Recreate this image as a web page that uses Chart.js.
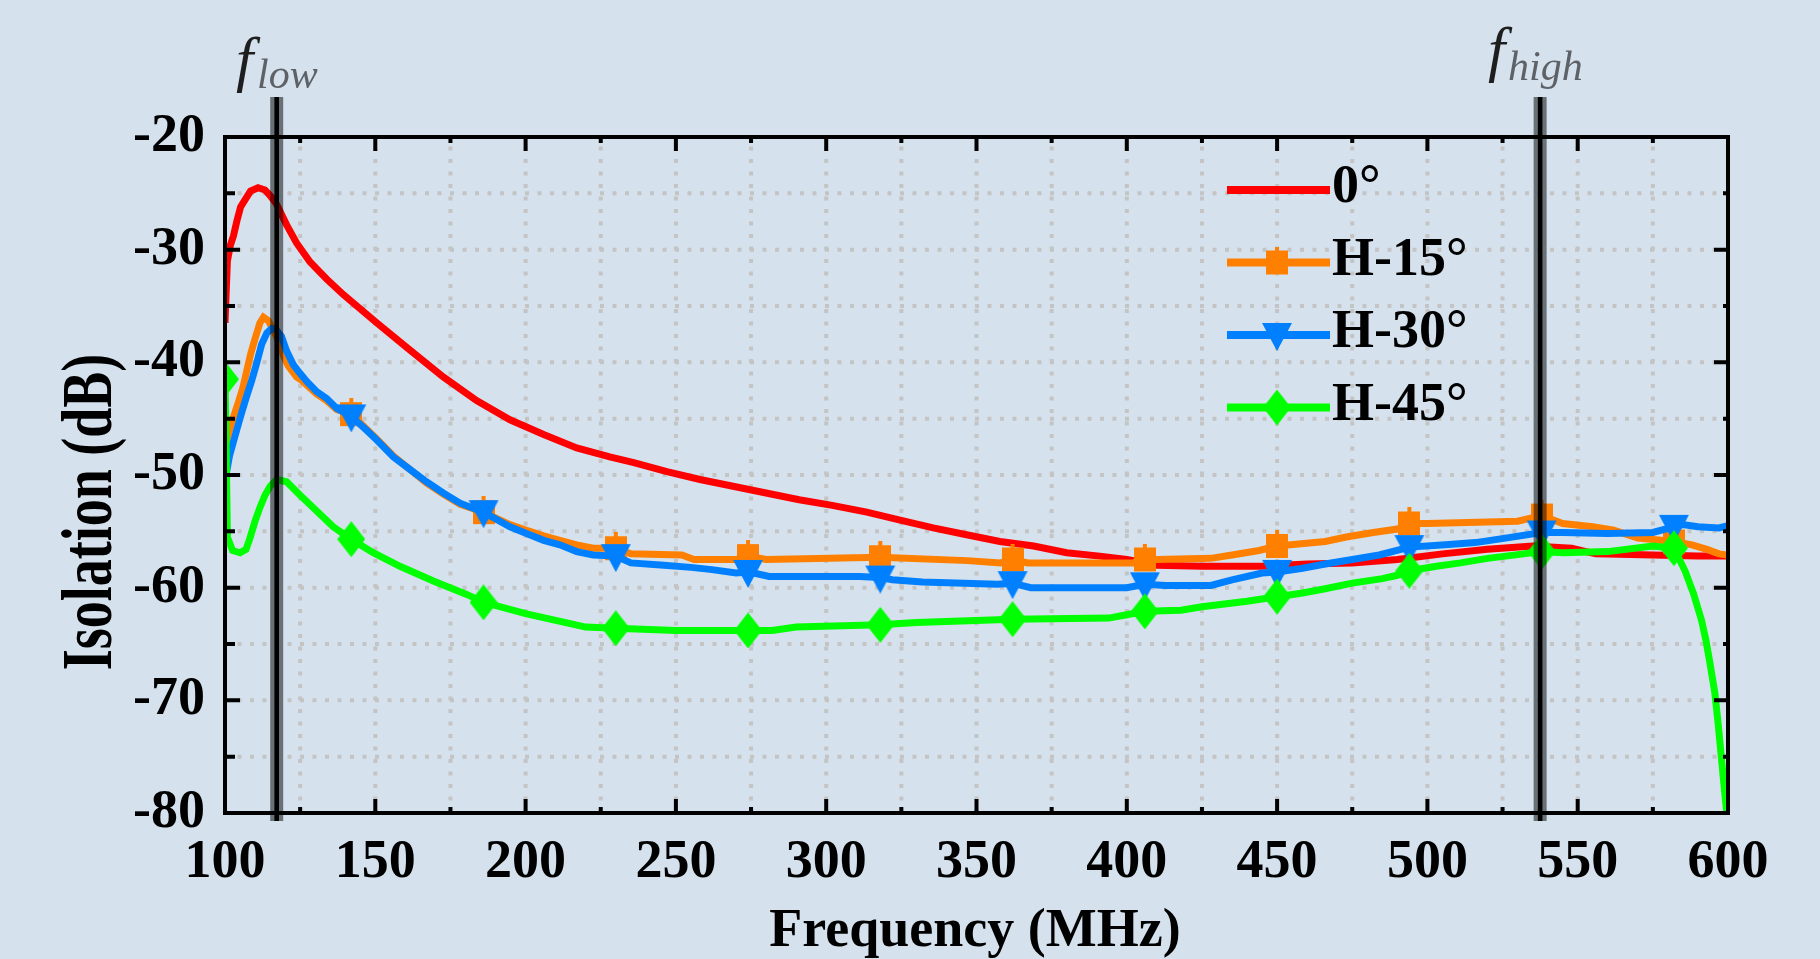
<!DOCTYPE html>
<html>
<head>
<meta charset="utf-8">
<script src="https://cdn.jsdelivr.net/npm/chart.js@4.4.1/dist/chart.umd.min.js"></script>
<style>
  html, body { margin: 0; padding: 0; background: #d5e2ed; }
  canvas { display: block; }
</style>
</head>
<body>
<canvas id="chart" width="1820" height="959"></canvas>
<script>
// values: frequency in MHz, isolation in dB

// 0°
const freq0 = [100, 100.8, 101.8, 102.8, 104, 105.2, 106.6, 108.5, 111, 113.3, 115, 117, 118.3, 120.5, 123.8, 128.3, 133.8, 139.4, 150.5, 161.5, 172.6, 183.7, 194.8, 206, 217, 228, 236, 247, 258, 269, 280, 291, 302, 313.5, 324.6, 335.6, 346.7, 357.8, 369, 380, 391, 400, 410, 425, 445, 460, 475, 490, 505, 520, 535, 548, 556, 575, 590, 600];
const iso0 = [-36.5, -31.0, -29.6, -28.8, -27.4, -26.2, -25.6, -24.8, -24.5, -24.7, -25.2, -25.9, -26.6, -27.8, -29.4, -31.1, -32.6, -34.0, -36.5, -38.9, -41.3, -43.4, -45.1, -46.4, -47.6, -48.4, -48.9, -49.7, -50.4, -51.0, -51.6, -52.2, -52.7, -53.3, -54.0, -54.7, -55.3, -55.9, -56.3, -56.9, -57.2, -57.5, -58.0, -58.1, -58.1, -57.9, -57.8, -57.5, -57.0, -56.6, -56.3, -56.5, -57.0, -57.1, -57.2, -57.2];

// H-15°
const freq1 = [100, 101, 102.3, 103.5, 104.4, 105.9, 107.2, 108.5, 110, 111.6, 112.8, 114.4, 117, 119.6, 121, 123.8, 125.5, 130.5, 133.8, 137.2, 142, 147, 150.5, 156, 161.5, 167, 172.6, 178.2, 186, 194.8, 200.3, 206, 211.4, 217, 222.5, 230, 235, 252, 256, 270, 274, 280, 318, 347, 358, 362, 367, 402, 406, 410, 428, 435, 444, 450, 458, 466, 473, 482, 490, 494, 500, 530, 538, 545, 555, 562, 570, 582, 588, 593, 597, 600];
const iso1 = [-47.5, -46.5, -45.3, -44.3, -43.6, -42.3, -40.8, -39.3, -37.9, -36.5, -36.0, -36.3, -37.6, -39.5, -40.3, -41.3, -41.6, -42.8, -43.4, -44.2, -44.6, -45.9, -46.8, -48.3, -49.5, -50.7, -51.7, -52.6, -53.3, -54.4, -54.9, -55.4, -55.8, -56.2, -56.5, -56.5, -57.0, -57.1, -57.5, -57.5, -57.2, -57.5, -57.3, -57.6, -57.8, -57.5, -57.8, -57.8, -57.5, -57.5, -57.4, -57.1, -56.7, -56.3, -56.1, -55.9, -55.5, -55.1, -54.8, -54.3, -54.3, -54.1, -53.6, -54.3, -54.6, -54.9, -55.6, -55.9, -56.2, -56.6, -57.0, -57.1];

// H-30°
const freq2 = [100, 101.5, 103.9, 105.5, 107.2, 108.9, 110.5, 112.2, 113.9, 115.5, 117, 118.8, 120.5, 122.7, 125, 127.2, 130.5, 133.8, 137.2, 142, 147, 150.5, 156, 161.5, 167, 172.6, 178.2, 186, 194.8, 200.3, 206, 211.4, 217, 222.5, 230, 235, 246, 255, 262, 270, 274, 281, 311, 318, 322, 332, 357, 362, 368, 400, 406, 413, 428, 435, 445, 450, 458, 466, 475, 484, 494, 506, 516, 526, 538, 545, 560, 575, 582, 585, 590, 597, 600];
const iso2 = [-50.5, -48.3, -46.0, -44.5, -43.0, -41.6, -40.1, -38.4, -37.4, -37.0, -37.1, -37.7, -39.0, -40.2, -41.0, -41.7, -42.6, -43.2, -44.1, -44.8, -46.0, -46.9, -48.4, -49.5, -50.6, -51.6, -52.5, -53.3, -54.6, -55.2, -55.8, -56.2, -56.8, -57.1, -57.2, -57.8, -58.0, -58.2, -58.4, -58.7, -58.6, -59.0, -59.0, -59.1, -59.3, -59.5, -59.7, -59.6, -60.0, -60.0, -59.7, -59.8, -59.8, -59.3, -58.7, -58.6, -58.3, -57.9, -57.5, -57.1, -56.4, -56.2, -56.0, -55.6, -55.1, -55.1, -55.2, -55.1, -54.6, -54.4, -54.6, -54.7, -54.5];

// H-45°
const freq3 = [100, 100.4, 100.8, 102.5, 105, 107, 108.3, 110, 111.6, 113.3, 115, 117.2, 120.5, 125, 130.5, 136, 142, 149.3, 158.2, 169.3, 180.4, 186, 200, 210, 220, 230, 250, 274, 282, 290, 318, 330, 362, 394, 400, 406, 418, 425, 440, 450, 458, 466, 475, 485, 490, 494, 503, 511, 520, 532, 538, 545, 560, 575, 582, 585.7, 588.5, 591.2, 592.6, 594, 595.6, 596.7, 597.8, 598.9, 600];
const iso3 = [-41.5, -48.0, -55.5, -56.7, -56.9, -56.6, -55.6, -54.1, -52.9, -51.8, -51.0, -50.4, -50.6, -51.8, -53.2, -54.6, -55.7, -56.9, -58.1, -59.4, -60.6, -61.3, -62.3, -62.9, -63.5, -63.6, -63.8, -63.8, -63.8, -63.5, -63.3, -63.1, -62.8, -62.7, -62.4, -62.1, -62.0, -61.7, -61.2, -60.8, -60.5, -60.1, -59.6, -59.2, -58.9, -58.5, -58.1, -57.8, -57.4, -57.0, -56.8, -56.9, -56.8, -56.3, -56.5, -58.5, -60.5, -62.9, -64.6, -66.7, -69.3, -72.0, -75.1, -78.2, -81.0];

// frequencies that carry a symbol
const markerFreqs = [142, 186, 230, 274, 318, 362, 406, 450, 494, 538, 582];
const markerFreqsGreen = [100].concat(markerFreqs);

const seriesNames = ['0\u00b0', 'H-15\u00b0', 'H-30\u00b0', 'H-45\u00b0'];
const xTickLabels = [100, 150, 200, 250, 300, 350, 400, 450, 500, 550, 600];
const yTickLabels = [-20, -30, -40, -50, -60, -70, -80];

// f_low and f_high markers (MHz)
const guideFreqs = [117.2, 537.5];
const guideNames = ['low', 'high'];

const bg = '#d5e2ed';
const serif = '"Liberation Serif", "Times New Roman", serif';

function pairs(xs, ys) {
  return xs.map((f, i) => ({ x: f, y: ys[i] }));
}

// small canvases used as point symbols
function symbol(w, h, color, path) {
  const c = document.createElement('canvas');
  c.width = w;
  c.height = h;
  const g = c.getContext('2d');
  g.fillStyle = color;
  g.beginPath();
  path(g);
  g.fill();
  return c;
}
const squareSym = symbol(22, 32, '#ff8000', g => {
  g.rect(0, 4, 22, 24);
  g.rect(9, 0, 4, 4);
});
const triangleSym = symbol(32, 32, '#0080ff', g => {
  g.moveTo(1, 4); g.lineTo(31, 4); g.lineTo(16, 32); g.closePath();
});
const diamondSym = symbol(28, 36, '#00ff00', g => {
  g.moveTo(14, 0); g.lineTo(28, 18); g.lineTo(14, 36); g.lineTo(0, 18); g.closePath();
});

function markerRadius(list) {
  return ctx => (ctx.raw && list.includes(ctx.raw.x)) ? 10 : 0;
}

const datasets = [
  { label: seriesNames[0], data: pairs(freq0, iso0), borderColor: '#ff0000', pointRadius: 0, order: 3 },
  { label: seriesNames[1], data: pairs(freq1, iso1), borderColor: '#ff8000', pointStyle: squareSym, pointRadius: markerRadius(markerFreqs), order: 2 },
  { label: seriesNames[2], data: pairs(freq2, iso2), borderColor: '#0080ff', pointStyle: triangleSym, pointRadius: markerRadius(markerFreqs), order: 1 },
  { label: seriesNames[3], data: pairs(freq3, iso3), borderColor: '#00ff00', pointStyle: diamondSym, pointRadius: markerRadius(markerFreqsGreen), order: 0 }
];
datasets.forEach(d => {
  d.borderWidth = 7;
  d.fill = false;
  d.clip = 0;
  d.tension = 0;
  d.pointHoverRadius = 0;
});

const frame = {
  id: 'frame',
  beforeDraw(chart) {
    const { ctx, width, height } = chart;
    ctx.save();
    ctx.fillStyle = bg;
    ctx.fillRect(0, 0, width, height);
    ctx.restore();
  },
  beforeDatasetsDraw(chart) {
    // dotted grid at every tick
    const { ctx, chartArea: a, scales: { x, y } } = chart;
    ctx.save();
    ctx.strokeStyle = '#c4c4c4';
    ctx.lineWidth = 4;
    ctx.setLineDash([4, 8.5]);
    x.ticks.forEach(t => {
      const px = x.getPixelForValue(t.value);
      if (px <= a.left + 2 || px >= a.right - 2) return;
      ctx.beginPath(); ctx.moveTo(px, a.bottom); ctx.lineTo(px, a.top); ctx.stroke();
    });
    y.ticks.forEach(t => {
      const py = y.getPixelForValue(t.value);
      if (py <= a.top + 2 || py >= a.bottom - 2) return;
      ctx.beginPath(); ctx.moveTo(a.left, py); ctx.lineTo(a.right, py); ctx.stroke();
    });
    ctx.restore();
  },
  afterDatasetsDraw(chart) {
    const { ctx, chartArea: a, scales: { x, y } } = chart;
    ctx.save();

    // box
    ctx.strokeStyle = '#000';
    ctx.lineWidth = 4;
    ctx.strokeRect(a.left, a.top, a.right - a.left, a.bottom - a.top);

    // inward tick marks on all four sides
    ctx.lineWidth = 4;
    ctx.beginPath();
    x.ticks.forEach(t => {
      const px = x.getPixelForValue(t.value);
      const len = t.value % 50 === 0 ? 14 : 6;
      ctx.moveTo(px, a.bottom); ctx.lineTo(px, a.bottom - len);
      ctx.moveTo(px, a.top); ctx.lineTo(px, a.top + len);
    });
    y.ticks.forEach(t => {
      const py = y.getPixelForValue(t.value);
      const major = t.value % 10 === 0;
      ctx.moveTo(a.left, py); ctx.lineTo(a.left + (major ? 15 : 10), py);
      ctx.moveTo(a.right, py); ctx.lineTo(a.right - (major ? 14 : 5), py);
    });
    ctx.stroke();

    // tick labels
    ctx.fillStyle = '#000';
    ctx.font = 'bold 54px ' + serif;
    ctx.textBaseline = 'alphabetic';
    ctx.textAlign = 'center';
    xTickLabels.forEach(v => ctx.fillText(String(v), x.getPixelForValue(v), 877));
    ctx.textAlign = 'right';
    yTickLabels.forEach(v => ctx.fillText(String(v), 205, y.getPixelForValue(v) + 14));

    // axis titles
    ctx.textAlign = 'center';
    ctx.fillText('Frequency (MHz)', 975, 946);
    ctx.save();
    ctx.translate(111, 512);
    ctx.rotate(-Math.PI / 2);
    ctx.scale(1, 1.35);
    ctx.fillText('Isolation (dB)', 0, 0);
    ctx.restore();

    // f_low / f_high guide lines
    guideFreqs.forEach(f => {
      const px = x.getPixelForValue(f);
      ctx.fillStyle = 'rgba(0,0,0,0.5)';
      ctx.fillRect(px - 6.5, 97, 13, 724);
      ctx.fillStyle = '#000';
      ctx.fillRect(px - 2.3, 97, 4.6, 724);
    });
    const labelPos = [[236, 80, 257, 88], [1488, 70, 1508, 80]];
    guideNames.forEach((name, i) => {
      const [fx, fy, sx, sy] = labelPos[i];
      ctx.textAlign = 'left';
      ctx.fillStyle = '#1e1e1e';
      ctx.font = 'italic 62px ' + serif;
      ctx.fillText('f', fx, fy);
      ctx.fillStyle = '#5e6266';
      ctx.font = 'italic 42px ' + serif;
      ctx.fillText(name, sx, sy);
    });

    // legend
    const symbols = [null, squareSym, triangleSym, diamondSym];
    chart.data.datasets.forEach((d, i) => {
      const ly = 190 + i * 72.5;
      ctx.fillStyle = d.borderColor;
      ctx.fillRect(1227, ly - 4, 103, 8);
      if (symbols[i]) {
        const s = symbols[i];
        ctx.drawImage(s, 1277 - s.width / 2, ly - s.height / 2);
      }
      ctx.fillStyle = '#000';
      ctx.font = 'bold 54px ' + serif;
      ctx.textAlign = 'left';
      ctx.fillText(d.label, 1332, ly + 12);
    });

    ctx.restore();
  }
};

new Chart(document.getElementById('chart'), {
  type: 'line',
  data: { datasets },
  options: {
    responsive: false,
    animation: false,
    devicePixelRatio: 1,
    layout: { autoPadding: false, padding: { left: 225, right: 92, top: 137, bottom: 146 } },
    plugins: { legend: { display: false }, tooltip: { enabled: false } },
    events: [],
    scales: {
      x: {
        type: 'linear', min: 100, max: 600,
        ticks: { display: false, stepSize: 25 },
        grid: { display: false },
        border: { display: false },
        afterFit: s => { s.height = 0; }
      },
      y: {
        type: 'linear', min: -80, max: -20,
        ticks: { display: false, stepSize: 5 },
        grid: { display: false },
        border: { display: false },
        afterFit: s => { s.width = 0; }
      }
    }
  },
  plugins: [frame]
});
</script>
</body>
</html>
